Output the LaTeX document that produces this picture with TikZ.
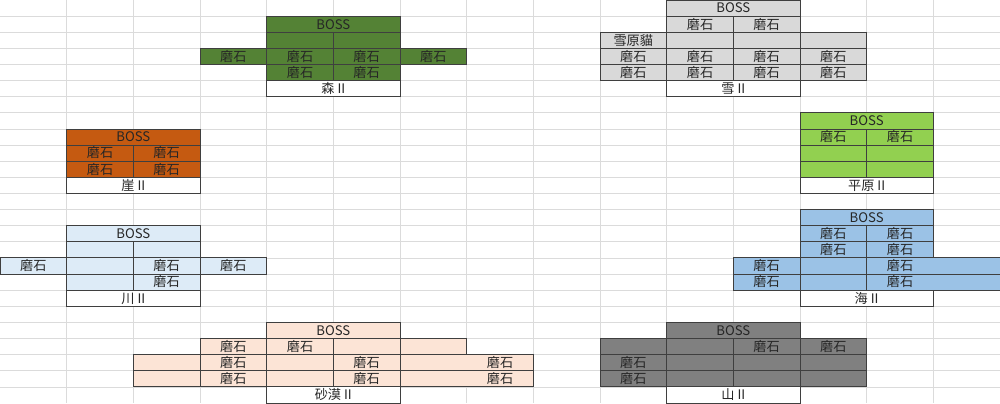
\documentclass[tikz,border=0pt]{standalone}
\usepackage{fontspec}
\setmainfont{Noto Sans CJK TC}
\definecolor{cellline}{HTML}{3F3F3F}
\definecolor{forestfill}{HTML}{548235}
\definecolor{snowfill}{HTML}{D9D9D9}
\definecolor{clifffill}{HTML}{C55A11}
\definecolor{plainfill}{HTML}{92D050}
\definecolor{seafill}{HTML}{9BC2E6}
\definecolor{riverfill}{HTML}{DDEBF7}
\definecolor{desertfill}{HTML}{FCE4D6}
\definecolor{mountainfill}{HTML}{808080}

\begin{document}
\begin{tikzpicture}
    [x=1.6cm, y=-0.38688cm,
    cell/.style={draw=cellline, fill=#1, line width=0.6pt,
    minimum width=1.6cm, minimum height=0.38688cm, inner sep=0pt, outer sep=0pt,
    text height=7.2pt, text depth=0.6pt, text=black!85,
    font=\fontsize{9}{10}\selectfont},
    wide/.style={minimum width=3.2cm},
    nodiv/.style={draw=none},
    gridline/.style={draw=black!14, line width=0.5pt},
    edge/.style={draw=cellline, line width=0.6pt}]

  \useasboundingbox (0,0) rectangle (15,25);
  \foreach \i in {1,...,14} \draw[gridline] (\i,0) -- (\i,25);
  \foreach \j in {1,...,24} \draw[gridline] (0,\j) -- (15,\j);

  % forest
  \node[cell=forestfill, wide] (forest_boss) at (5,1.5) {BOSS};
  \node[cell=forestfill] (forest_a) at (4.5,2.5) {};
  \node[cell=forestfill] (forest_b) at (5.5,2.5) {};
  \node[cell=forestfill] (forest_c) at (3.5,3.5) {磨石};
  \node[cell=forestfill] (forest_d) at (4.5,3.5) {磨石};
  \node[cell=forestfill] (forest_e) at (5.5,3.5) {磨石};
  \node[cell=forestfill] (forest_f) at (6.5,3.5) {磨石};
  \node[cell=forestfill] (forest_g) at (4.5,4.5) {磨石};
  \node[cell=forestfill] (forest_h) at (5.5,4.5) {磨石};
  \node[cell=white, wide] (forest_name) at (5,5.5) {森 II};

  % snow
  \node[cell=snowfill, wide] (snow_boss) at (11,0.5) {BOSS};
  \node[cell=snowfill] (snow_a) at (10.5,1.5) {磨石};
  \node[cell=snowfill] (snow_b) at (11.5,1.5) {磨石};
  \node[cell=snowfill] (snow_cat) at (9.5,2.5) {雪原貓};
  \node[cell=snowfill] (snow_c) at (10.5,2.5) {};
  \node[cell=snowfill] (snow_d) at (11.5,2.5) {};
  \node[cell=snowfill] (snow_e) at (12.5,2.5) {};
  \node[cell=snowfill] (snow_f) at (9.5,3.5) {磨石};
  \node[cell=snowfill] (snow_g) at (10.5,3.5) {磨石};
  \node[cell=snowfill] (snow_h) at (11.5,3.5) {磨石};
  \node[cell=snowfill] (snow_i) at (12.5,3.5) {磨石};
  \node[cell=snowfill] (snow_j) at (9.5,4.5) {磨石};
  \node[cell=snowfill] (snow_k) at (10.5,4.5) {磨石};
  \node[cell=snowfill] (snow_l) at (11.5,4.5) {磨石};
  \node[cell=snowfill] (snow_m) at (12.5,4.5) {磨石};
  \node[cell=white, wide] (snow_name) at (11,5.5) {雪 II};

  % cliff
  \node[cell=clifffill, wide] (cliff_boss) at (2,8.5) {BOSS};
  \node[cell=clifffill] (cliff_a) at (1.5,9.5) {磨石};
  \node[cell=clifffill] (cliff_b) at (2.5,9.5) {磨石};
  \node[cell=clifffill] (cliff_c) at (1.5,10.5) {磨石};
  \node[cell=clifffill] (cliff_d) at (2.5,10.5) {磨石};
  \node[cell=white, wide] (cliff_name) at (2,11.5) {崖 II};

  % plain
  \node[cell=plainfill, wide] (plain_boss) at (13,7.5) {BOSS};
  \node[cell=plainfill] (plain_a) at (12.5,8.5) {磨石};
  \node[cell=plainfill] (plain_b) at (13.5,8.5) {磨石};
  \node[cell=plainfill] (plain_c) at (12.5,9.5) {};
  \node[cell=plainfill] (plain_d) at (13.5,9.5) {};
  \node[cell=plainfill] (plain_e) at (12.5,10.5) {};
  \node[cell=plainfill] (plain_f) at (13.5,10.5) {};
  \node[cell=white, wide] (plain_name) at (13,11.5) {平原 II};

  % sea
  \node[cell=seafill, wide] (sea_boss) at (13,13.5) {BOSS};
  \node[cell=seafill] (sea_a) at (12.5,14.5) {磨石};
  \node[cell=seafill] (sea_b) at (13.5,14.5) {磨石};
  \node[cell=seafill] (sea_c) at (12.5,15.5) {磨石};
  \node[cell=seafill] (sea_d) at (13.5,15.5) {磨石};
  \node[cell=seafill] (sea_e) at (11.5,16.5) {磨石};
  \node[cell=seafill] (sea_f) at (12.5,16.5) {};
  \node[cell=seafill, nodiv] (sea_g) at (13.5,16.5) {磨石};
  \node[cell=seafill, nodiv] (sea_h) at (14.5,16.5) {};
  \node[cell=seafill] (sea_i) at (11.5,17.5) {磨石};
  \node[cell=seafill] (sea_j) at (12.5,17.5) {};
  \node[cell=seafill, nodiv] (sea_k) at (13.5,17.5) {磨石};
  \node[cell=seafill, nodiv] (sea_l) at (14.5,17.5) {};
  \node[cell=white, wide] (sea_name) at (13,18.5) {海 II};
  \draw[edge] (sea_g.north west) rectangle (sea_h.south east);
  \draw[edge] (sea_k.north west) rectangle (sea_l.south east);

  % river
  \node[cell=riverfill, wide] (river_boss) at (2,14.5) {BOSS};
  \node[cell=riverfill] (river_a) at (1.5,15.5) {};
  \node[cell=riverfill] (river_b) at (2.5,15.5) {};
  \node[cell=riverfill] (river_c) at (0.5,16.5) {磨石};
  \node[cell=riverfill] (river_d) at (1.5,16.5) {};
  \node[cell=riverfill] (river_e) at (2.5,16.5) {磨石};
  \node[cell=riverfill] (river_f) at (3.5,16.5) {磨石};
  \node[cell=riverfill] (river_g) at (1.5,17.5) {};
  \node[cell=riverfill] (river_h) at (2.5,17.5) {磨石};
  \node[cell=white, wide] (river_name) at (2,18.5) {川 II};

  % desert
  \node[cell=desertfill, wide] (desert_boss) at (5,20.5) {BOSS};
  \node[cell=desertfill] (desert_a) at (3.5,21.5) {磨石};
  \node[cell=desertfill] (desert_b) at (4.5,21.5) {磨石};
  \node[cell=desertfill] (desert_c) at (5.5,21.5) {};
  \node[cell=desertfill] (desert_d) at (6.5,21.5) {};
  \node[cell=desertfill] (desert_e) at (2.5,22.5) {};
  \node[cell=desertfill] (desert_f) at (3.5,22.5) {磨石};
  \node[cell=desertfill] (desert_g) at (4.5,22.5) {};
  \node[cell=desertfill] (desert_h) at (5.5,22.5) {磨石};
  \node[cell=desertfill, nodiv] (desert_i) at (6.5,22.5) {};
  \node[cell=desertfill, nodiv] (desert_j) at (7.5,22.5) {磨石};
  \node[cell=desertfill] (desert_k) at (2.5,23.5) {};
  \node[cell=desertfill] (desert_l) at (3.5,23.5) {磨石};
  \node[cell=desertfill] (desert_m) at (4.5,23.5) {};
  \node[cell=desertfill] (desert_n) at (5.5,23.5) {磨石};
  \node[cell=desertfill, nodiv] (desert_o) at (6.5,23.5) {};
  \node[cell=desertfill, nodiv] (desert_p) at (7.5,23.5) {磨石};
  \node[cell=white, wide] (desert_name) at (5,24.5) {砂漠 II};
  \draw[edge] (desert_i.north west) rectangle (desert_j.south east);
  \draw[edge] (desert_o.north west) rectangle (desert_p.south east);

  % mountain
  \node[cell=mountainfill, wide] (mountain_boss) at (11,20.5) {BOSS};
  \node[cell=mountainfill] (mountain_a) at (9.5,21.5) {};
  \node[cell=mountainfill] (mountain_b) at (10.5,21.5) {};
  \node[cell=mountainfill] (mountain_c) at (11.5,21.5) {磨石};
  \node[cell=mountainfill] (mountain_d) at (12.5,21.5) {磨石};
  \node[cell=mountainfill] (mountain_e) at (9.5,22.5) {磨石};
  \node[cell=mountainfill] (mountain_f) at (10.5,22.5) {};
  \node[cell=mountainfill] (mountain_g) at (11.5,22.5) {};
  \node[cell=mountainfill] (mountain_h) at (12.5,22.5) {};
  \node[cell=mountainfill] (mountain_i) at (9.5,23.5) {磨石};
  \node[cell=mountainfill] (mountain_j) at (10.5,23.5) {};
  \node[cell=mountainfill] (mountain_k) at (11.5,23.5) {};
  \node[cell=mountainfill] (mountain_l) at (12.5,23.5) {};
  \node[cell=white, wide] (mountain_name) at (11,24.5) {山 II};

\end{tikzpicture}
\end{document}
